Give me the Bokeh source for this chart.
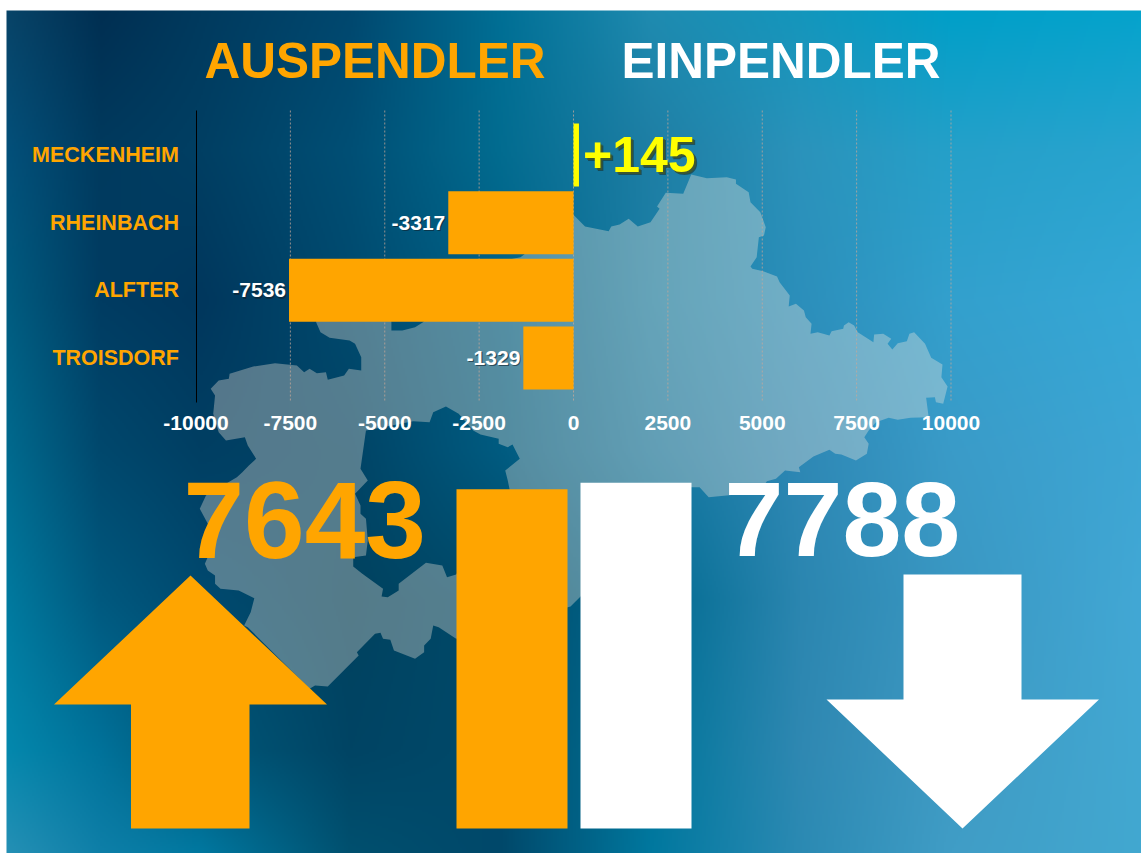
import numpy as np
from bokeh.plotting import figure
from bokeh.models import Range1d, FixedTicker
from bokeh.core.properties import value
from bokeh.embed import file_html
from bokeh.resources import INLINE

# ---- chart data
towns = ["MECKENHEIM", "RHEINBACH", "ALFTER", "TROISDORF"]
saldo = [145, -3317, -7536, -1329]
x_ticks = [-10000, -7500, -5000, -2500, 0, 2500, 5000, 7500, 10000]
total_names = ["AUSPENDLER", "EINPENDLER"]
total_values = [7643, 7788]

ORANGE, YELLOW, WHITE = "#ffa500", "#ffff00", "#ffffff"
FONT = value("Liberation Sans")

# ---- page geometry (pixels of the page)
L, R, T, B = 0, 1141, 0, 853
IMG_L, IMG_T = 6, 10
X0, PX_PER_UNIT = 573.0, 0.03775
Y0, ROW = 154.5, 67.67
AX_TOP, AX_BOT = 110, 402
BASE, PX_PER_TOTAL = 828.0, 0.0444
BAR0, BAR_STEP = 511.5, 124.0

p = figure(width=R - L, height=B - T, output_backend="svg", toolbar_location=None,
           min_border=0, min_border_left=0, min_border_right=0, min_border_top=0, min_border_bottom=0,
           x_range=Range1d((L - X0) / PX_PER_UNIT, (R - X0) / PX_PER_UNIT),
           y_range=Range1d((B - Y0) / ROW, (T - Y0) / ROW))
p.outline_line_color = None
p.border_fill_color = "#ffffff"
p.background_fill_color = "#ffffff"
p.extra_x_ranges["px"] = Range1d(L, R)
p.extra_y_ranges["px"] = Range1d(B, T)
p.extra_y_ranges["up"] = Range1d(-B, -T)
p.extra_x_ranges["tot"] = Range1d((L - BAR0) / BAR_STEP, (R - BAR0) / BAR_STEP)
p.extra_y_ranges["tot"] = Range1d((BASE - B) / PX_PER_TOTAL, (BASE - T) / PX_PER_TOTAL)

# ---- background gradient (decoration)
gx = [6, 100, 200, 350, 500, 650, 800, 950, 1141]
gy = [10, 150, 300, 450, 600, 750, 853]
gc = [
    "084468 002f52 003a5e 00486f 006f95 1f8bb0 1496bc 009fc8 05a3cc",
    "03507a 003a5e 003f63 004f75 026c90 1e7ea4 2b93bb 25a0c9 28a4cf",
    "005c80 003c62 00375d 004a6e 005f85 1a7fa6 2c8fbb 33a0cd 35a8d6",
    "006a8e 00486d 003f63 004466 005b80 1577a0 2e88b5 3a9bc8 3da6d4",
    "007a9f 00597f 004a70 00425f 004a6a 006a90 2b86b0 3a97c2 42a8d5",
    "0488ad 00729a 005879 004464 004a6a 00759a 2f88b2 3f9ac3 42a8d2",
    "2590b5 0e7fa8 0078a0 00506f 00486a 00789f 2b8ab3 409dc6 42a8d0",
]
grid_rgb = np.array([[[int(c[i:i + 2], 16) for i in (0, 2, 4)] for c in row.split()] for row in gc], float)
iw, ih = (R - IMG_L) // 2, (B - IMG_T) // 2
qx = np.linspace(IMG_L, R, iw)
qy = np.linspace(IMG_T, B, ih)
rgb = np.zeros((ih, iw, 3))
for k in range(3):
    across = np.array([np.interp(qx, gx, grid_rgb[r, :, k]) for r in range(len(gy))])
    for c in range(iw):
        rgb[:, c, k] = np.interp(qy, gy, across[:, c])
img = np.zeros((ih, iw), dtype=np.uint32)
view = img.view(dtype=np.uint8).reshape((ih, iw, 4))
view[..., :3] = rgb.astype(np.uint8)
view[..., 3] = 255
p.image_rgba(image=[img[::-1]], x=IMG_L, y=-B, dw=R - IMG_L, dh=B - IMG_T,
             x_range_name="px", y_range_name="up", level="image")

# ---- map silhouette (decoration)
def z(points, ox, oy):
    return [(ox + a / 2.75, oy + b / 3) for a, b in points]

outer = (
    z([(10, 645), (40, 678), (105, 692), (112, 678), (135, 672), (160, 655), (185, 678), (220, 665), (245, 625),
       (238, 618), (262, 577), (310, 580), (332, 522), (375, 533), (430, 530), (455, 537), (455, 550), (490, 575),
       (495, 605), (522, 635), (537, 680), (532, 705), (518, 710), (512, 770), (495, 798), (500, 805), (530, 812),
       (568, 828), (575, 845), (603, 885), (600, 918), (620, 910), (642, 930), (647, 950), (663, 970), (660, 1000),
       (680, 995), (712, 1005), (718, 992), (750, 985), (752, 975), (765, 965), (780, 975), (790, 995), (833, 1025),
       (835, 1002), (860, 1000), (882, 1015), (872, 1030), (885, 1047), (900, 1028), (925, 1022), (932, 1000),
       (945, 995), (975, 1030), (992, 1072), (1023, 1092), (1020, 1130), (1037, 1158), (1025, 1210), (1005, 1205),
       (1002, 1190), (978, 1192), (985, 1250), (935, 1252), (900, 1258), (875, 1252), (840, 1265)], 570, 0)
    + z([(820, 0), (808, 20), (820, 40), (815, 70), (785, 90), (745, 72), (728, 70), (712, 58), (668, 78), (628, 110),
         (632, 125), (590, 120), (565, 145), (540, 152), (520, 185), (380, 200), (355, 170), (330, 170), (0, 528)], 570, 430)
    + z([(1253, 625), (1205, 590), (1190, 585), (1183, 625), (1165, 645), (1165, 665), (1140, 685), (1082, 660),
         (1072, 628), (1052, 625), (1045, 607), (1030, 610), (980, 665), (985, 675), (900, 768), (865, 765), (850, 775),
         (680, 590), (670, 585), (688, 545), (698, 503), (655, 480), (605, 475), (590, 460), (590, 435), (570, 420),
         (562, 400), (568, 385), (590, 320), (548, 235), (565, 195), (650, 140), (665, 125), (683, 105), (703, 85),
         (680, 45), (672, 20), (620, 30), (600, 5)], 0, 430)
    + z([(585, 1240), (590, 1185), (578, 1165), (600, 1140), (628, 1135), (630, 1120), (695, 1098), (755, 1088),
         (815, 1095), (835, 1115), (850, 1105), (870, 1118), (895, 1115), (900, 1138), (945, 1125), (958, 1105),
         (992, 1110), (992, 1070), (975, 1030), (960, 1020), (905, 1012), (880, 995), (868, 965), (880, 800),
         (1060, 800), (1075, 965), (1075, 990), (1105, 990), (1140, 980), (1162, 965), (1300, 800), (1430, 770),
         (1440, 762), (1550, 640)], 0, 0)
)
hole = (
    z([(1135, 1262), (1180, 1265), (1190, 1235), (1225, 1218), (1260, 1240), (1300, 1290)], 0, 0)
    + z([(1320, 12), (1370, 25), (1370, 40), (1395, 50), (1408, 42), (1428, 85), (1388, 120), (1395, 150), (1400, 177),
         (1253, 432), (1228, 440), (1215, 405), (1170, 397), (1095, 460), (1095, 480), (1065, 500), (1048, 498),
         (1052, 475), (995, 430), (970, 408), (970, 380), (1005, 375), (1010, 330), (1005, 265), (990, 250), (990, 225),
         (975, 190), (1010, 150), (990, 115), (1005, 0)], 0, 430)
)
p.multi_polygons(
    xs=[[[[a for a, _ in outer], [a for a, _ in hole]]]],
    ys=[[[[b for _, b in outer], [b for _, b in hole]]]],
    fill_color="#fff0e0", fill_alpha=0.33, line_color=None,
    x_range_name="px", y_range_name="px", level="image")

# ---- axes and dashed guide lines, drawn inside the single full-page frame
row_top, row_bot = (AX_TOP - Y0) / ROW, (AX_BOT - Y0) / ROW
xa = p.xaxis[0]
xa.fixed_location = row_bot
xa.ticker = FixedTicker(ticks=x_ticks)
xa.major_label_overrides = {t: str(t) for t in x_ticks}
xa.axis_line_color = None
xa.major_tick_line_color = None
xa.minor_tick_line_color = None
xa.major_label_standoff = 7
xa.major_label_text_color = WHITE
xa.major_label_text_font = "Liberation Sans"
xa.major_label_text_font_style = "bold"
xa.major_label_text_font_size = "21px"

ya = p.yaxis[0]
ya.fixed_location = x_ticks[0]
ya.bounds = (row_top, row_bot)
ya.ticker = FixedTicker(ticks=list(range(len(towns))))
ya.major_label_overrides = {i: t for i, t in enumerate(towns)}
ya.axis_line_color = "#000000"
ya.axis_line_width = 1
ya.major_tick_line_color = None
ya.minor_tick_line_color = None
ya.major_label_standoff = 11
ya.major_label_text_color = ORANGE
ya.major_label_text_font = "Liberation Sans"
ya.major_label_text_font_style = "bold"
ya.major_label_text_font_size = "21.5px"

p.grid.visible = False
guide = x_ticks[1:]
p.segment(x0=guide, x1=guide, y0=[row_top] * len(guide), y1=[row_bot] * len(guide),
          line_color="#c8a898", line_alpha=0.75, line_dash="2 2", line_width=1, level="underlay")

# ---- saldo bars and their labels
idx = list(range(len(towns)))
colors = [YELLOW if v > 0 else ORANGE for v in saldo]
p.hbar(y=idx, left=0, right=saldo, height=63 / ROW, fill_color=colors, line_color=None)

neg = [i for i in idx if saldo[i] < 0]
pos = [i for i in idx if saldo[i] > 0]
for dx, dy, col, alpha in [(1.2, 1.2, "#10202c", 0.6), (0, 0, WHITE, 1.0)]:
    p.text(x=[saldo[i] for i in neg], y=neg, text=[str(saldo[i]) for i in neg],
           x_offset=-3 + dx, y_offset=dy, text_align="right", text_baseline="middle",
           text_font=FONT, text_font_style="bold", text_font_size="21px", text_color=col, text_alpha=alpha)
for dx, dy, col, alpha in [(3, 3, "#1a2a20", 0.55), (2, 2, "#4a5a20", 0.7), (0, 0, YELLOW, 1.0)]:
    p.text(x=[saldo[i] for i in pos], y=pos, text=[f"+{saldo[i]}" for i in pos],
           x_offset=4 + dx, y_offset=-1 + dy, text_align="left", text_baseline="middle",
           text_font=FONT, text_font_style="bold", text_font_size="50px", text_color=col, text_alpha=alpha)

# ---- totals
p.vbar(x=[0, 1], top=total_values, bottom=0, width=111 / BAR_STEP, fill_color=[ORANGE, WHITE], line_color=None,
       x_range_name="tot", y_range_name="tot")

# ---- arrows (decoration)
p.patch([53.5, 190, 326.5, 249, 249, 130.5, 130.5], [704, 575, 704, 704, 828, 828, 704],
        fill_color=ORANGE, line_color=None, x_range_name="px", y_range_name="px")
p.patch([826, 903, 903, 1021, 1021, 1098.5, 962], [699, 699, 574, 574, 699, 699, 828],
        fill_color=WHITE, line_color=None, x_range_name="px", y_range_name="px")

# ---- titles and big numbers
for name, x, col in [(total_names[0], 204, ORANGE), (total_names[1], 621, WHITE)]:
    p.text(x=[x], y=[60], text=[name], text_font=FONT, text_font_style="bold", text_font_size="49.5px",
           text_color=col, text_baseline="middle", x_range_name="px", y_range_name="px")
for val, x, col, size in [(total_values[0], 183, ORANGE, "109px"), (total_values[1], 724, WHITE, "106px")]:
    p.text(x=[x], y=[519], text=[str(val)], text_font=FONT, text_font_style="bold", text_font_size=size,
           text_color=col, text_baseline="middle", x_range_name="px", y_range_name="px")

open("out.html", "w").write(file_html(p, INLINE))
